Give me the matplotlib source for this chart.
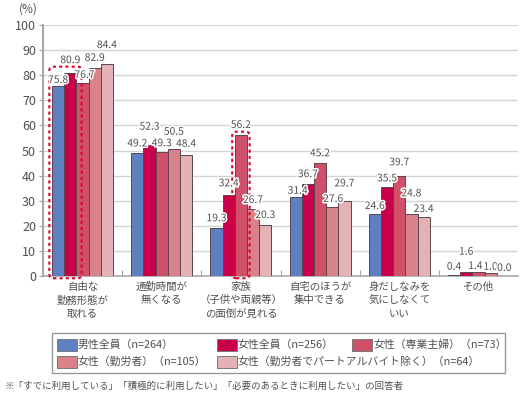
import numpy as np
import matplotlib
matplotlib.use('Agg')
import matplotlib.pyplot as plt
from matplotlib.patches import FancyBboxPatch, Rectangle
import matplotlib.patheffects as pe

plt.rcParams['font.family'] = ['Noto Sans CJK JP', 'DejaVu Sans']

# data
categories = ['自由な\n勤務形態が\n取れる', '通勤時間が\n無くなる', '家族\n（子供や両親等）\nの面倒が見れる',
              '自宅のほうが\n集中できる', '身だしなみを\n気にしなくて\nいい', 'その他']
series_names = ['男性全員（n=264）', '女性全員（n=256）', '女性（専業主婦）（n=73）',
                '女性（勤労者）（n=105）', '女性（勤労者でパートアルバイト除く）（n=64）']
male_all = [75.8, 49.2, 19.3, 31.4, 24.6, 0.4]
female_all = [80.9, 52.3, 32.4, 36.7, 35.5, 1.6]
female_housewife = [76.7, 49.3, 56.2, 45.2, 39.7, 1.4]
female_worker = [82.9, 50.5, 26.7, 27.6, 24.8, 1.0]
female_worker_fulltime = [84.4, 48.4, 20.3, 29.7, 23.4, 0.0]
series = [male_all, female_all, female_housewife, female_worker, female_worker_fulltime]

colors = ['#5E7FC0', '#C8004A', '#CF5068', '#DA8289', '#E4B2B4']
# value label placement: height above the bar top (data units), sideways nudge (pixels)
label_dy = [[2.3, 5.1, 3.4, 4.0, 7.6],
            [3.6, 7.2, 3.6, 7.0, 4.3],
            [3.7, 4.5, 4.0, 3.6, 4.0],
            [2.6, 3.9, 3.7, 3.1, 7.2],
            [3.3, 3.4, 5.6, 8.1, 3.3],
            [3.3, 8.1, 2.6, 2.7, 3.2]]
label_dx = [[0, 0, 2, 0, 0],
            [0, 0, 0, 0, 0],
            [0, 0, 0, 0, 0],
            [2, 0, 0, 1, 0],
            [0, 0, 0, 0, 0],
            [0, 0, -3, 0, 1.5]]

txt = '#505050'
fig = plt.figure(figsize=(5.22, 3.98), dpi=100)
ax = fig.add_axes([43/522, 1-276/398, (518-43)/522, (276-25)/398])

bw = 0.154
centers = np.arange(len(categories)) + 0.5
for k, vals in enumerate(series):
    xs = centers + (k - 2) * bw
    ax.bar(xs, vals, width=bw, color=colors[k], edgecolor='#5a4650', linewidth=0.7, zorder=3)
    for i, (x, v) in enumerate(zip(xs, vals)):
        ax.annotate(f'{v:.1f}', (x, v + label_dy[i][k]), xytext=(label_dx[i][k] * 0.72, 0),
                    textcoords='offset points', ha='center', va='center',
                    fontsize=7.4, color=txt, zorder=5,
                    path_effects=[pe.withStroke(linewidth=2.2, foreground='white')])

ax.set_xlim(0, len(categories))
ax.set_ylim(0, 100)
ax.set_yticks(range(0, 101, 10))
ax.yaxis.grid(True, color='#d4d4d4', linewidth=1, zorder=0)
ax.set_axisbelow(True)
ax.tick_params(axis='y', labelsize=9, colors='#a0a0a0', labelcolor=txt, length=3, pad=2)

ax.set_xticks(range(1, len(categories)))
ax.set_xticklabels([])
ax.tick_params(axis='x', which='major', direction='in', length=4, colors='#a0a0a0')
ax.set_xticks(centers, minor=True)
ax.set_xticklabels(categories, minor=True, fontsize=7.5, color=txt, linespacing=1.45)
ax.tick_params(axis='x', which='minor', length=0, pad=4)

for s in ['top', 'right']:
    ax.spines[s].set_visible(False)
ax.spines['left'].set_color('#a8a8a8')
ax.spines['left'].set_linewidth(1.5)
ax.spines['bottom'].set_color('#a8a8a8')
ax.spines['bottom'].set_linewidth(1.2)

# red dotted highlight boxes
for x0, x1, y1 in [(0.08, 0.488, 83.4), (2.39, 2.61, 57.5)]:
    box = FancyBboxPatch((x0, -0.9), x1 - x0, y1 + 0.9,
                         boxstyle='round,pad=0,rounding_size=0.05', mutation_aspect=32,
                         fill=False, edgecolor='#E0002A', linestyle=(0, (1.5, 1.5)),
                         linewidth=1.5, clip_on=False, zorder=4)
    ax.add_patch(box)

fig.text(28/522, 1-9/398, '(%)', ha='center', va='center', fontsize=8.5, color=txt)

# legend drawn by hand so columns line up like the original
lax = fig.add_axes([0, 0, 1, 1], facecolor='none')
lax.set_xlim(0, 522)
lax.set_ylim(398, 0)
lax.axis('off')
lax.add_patch(Rectangle((52, 333), 453, 40, fill=False, edgecolor='#999999', linewidth=1))
slots = [(57, 345), (217, 345), (352, 345), (57, 361.5), (217, 361.5)]
for (lx, ly), name, c in zip(slots, series_names, colors):
    lax.add_patch(Rectangle((lx, ly - 6), 20, 12, facecolor=c, edgecolor='#7a7a7a', linewidth=0.7))
    lax.text(lx + 21, ly, name, ha='left', va='center', fontsize=7.8, color=txt)

lax.text(5, 386, '※「すでに利用している」「積極的に利用したい」「必要のあるときに利用したい」の回答者',
         ha='left', va='center', fontsize=6.8, color=txt)

fig.savefig('out.png', dpi=100)
